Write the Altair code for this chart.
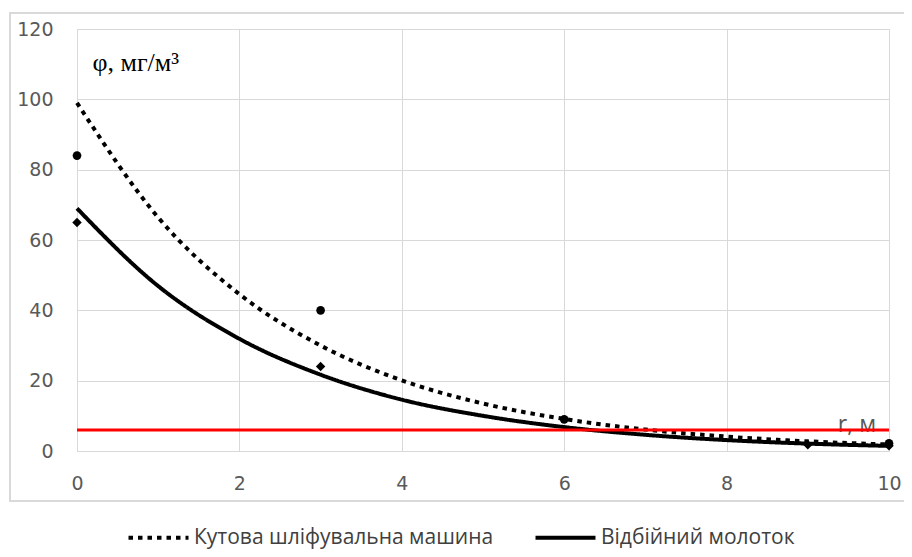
import altair as alt
import pandas as pd

# ---- data ----
series_names = ["Кутова шліфувальна машина", "Відбійний молоток"]

r_trend = [0, 1, 2, 3, 4, 5, 6, 7, 8, 9, 10]
trend_grinder = [99.0, 66.4, 44.6, 30.0, 20.1, 13.5, 9.1, 6.1, 4.1, 2.75, 1.85]
trend_hammer = [69.0, 46.9, 31.9, 21.7, 14.6, 10.0, 6.8, 4.6, 3.1, 2.1, 1.45]

r_grinder_pts = [0, 3, 6, 10]
phi_grinder_pts = [84, 40, 9, 2.2]
r_hammer_pts = [0, 3, 9, 10]
phi_hammer_pts = [65, 24, 1.8, 1.5]

mpc_level = [6]

x_ticks = [0, 2, 4, 6, 8, 10]
y_ticks = [0, 20, 40, 60, 80, 100, 120]

y_label_text = "φ, мг/м³"
x_label_text = "r, м"

# ---- tables ----
trend_df = pd.DataFrame({
    "r": r_trend * 2,
    "phi": trend_grinder + trend_hammer,
    "series": [series_names[0]] * len(r_trend) + [series_names[1]] * len(r_trend),
})
grinder_df = pd.DataFrame({"r": r_grinder_pts, "phi": phi_grinder_pts})
hammer_df = pd.DataFrame({"r": r_hammer_pts, "phi": phi_hammer_pts})
mpc_df = pd.DataFrame({"phi": mpc_level})

GRID = "#d9d9d9"
LABEL = "#595959"
FONT = "Open Sans"
TICKFONT = "DejaVu Sans"

x_scale = alt.Scale(domain=[0, 10], nice=False, zero=False)
y_scale = alt.Scale(domain=[0, 120], nice=False)

x_axis = alt.Axis(values=x_ticks, title=None, ticks=False, domain=False,
                  labelPadding=23, labelFontSize=19, labelFont=TICKFONT,
                  labelColor=LABEL, gridColor=GRID, grid=True, format="d",
                  labelFlush=False)
y_axis = alt.Axis(values=y_ticks, title=None, ticks=False, domain=False,
                  labelPadding=24, labelFontSize=19, labelFont=TICKFONT,
                  labelColor=LABEL, gridColor=GRID, grid=True, format="d")

frame = alt.Chart(pd.DataFrame({"a": [0]})).mark_rect(
    fill="white", fillOpacity=0, stroke=GRID, strokeWidth=2
).encode(
    x=alt.value(-67), x2=alt.value(840), y=alt.value(-16), y2=alt.value(472)
)

lines = alt.Chart(trend_df).mark_line(
    interpolate="monotone", strokeWidth=4, color="black", strokeCap="butt"
).encode(
    x=alt.X("r:Q", scale=x_scale, axis=x_axis),
    y=alt.Y("phi:Q", scale=y_scale, axis=y_axis),
    strokeDash=alt.StrokeDash(
        "series:N",
        scale=alt.Scale(domain=series_names, range=[[4.5, 5], [1, 0]]),
        legend=alt.Legend(
            title=None, orient="none", legendX=71, legendY=498,
            direction="horizontal", columns=2,
            symbolType="M-3.75,0H3.75",
            symbolStrokeWidth=4, symbolSize=256, symbolStrokeColor="black",
            symbolFillColor="transparent",
            labelFont=FONT, labelFontSize=21, labelColor="#404040",
            columnPadding=33, labelOffset=25, padding=0, labelLimit=500,
        ),
    ),
    detail="series:N",
)

grinder_pts = alt.Chart(grinder_df).mark_point(
    shape="circle", filled=True, size=75, color="black", opacity=1
).encode(x=alt.X("r:Q", scale=x_scale), y=alt.Y("phi:Q", scale=y_scale))

hammer_pts = alt.Chart(hammer_df).mark_point(
    shape="diamond", filled=True, size=90, color="black", opacity=1
).encode(x=alt.X("r:Q", scale=x_scale), y=alt.Y("phi:Q", scale=y_scale))

mpc = alt.Chart(mpc_df).mark_rule(color="#ff0000", strokeWidth=3).encode(
    y=alt.Y("phi:Q", scale=y_scale)
)

phi_label = alt.Chart(pd.DataFrame({"r": [0.19], "phi": [108], "t": [y_label_text]})).mark_text(
    align="left", baseline="alphabetic", font="Liberation Serif", fontSize=26, color="black"
).encode(x=alt.X("r:Q", scale=x_scale), y=alt.Y("phi:Q", scale=y_scale), text="t:N")

r_label = alt.Chart(pd.DataFrame({"r": [9.84], "phi": [5.4], "t": [x_label_text]})).mark_text(
    align="right", baseline="alphabetic", font=FONT, fontSize=23, color=LABEL
).encode(x=alt.X("r:Q", scale=x_scale), y=alt.Y("phi:Q", scale=y_scale), text="t:N")

chart = alt.layer(
    frame, phi_label, r_label, lines, grinder_pts, hammer_pts, mpc
).properties(
    width=812, height=422,
    autosize=alt.AutoSizeParams(type="none"),
    padding={"left": 69, "top": 21, "right": 15, "bottom": 98},
    background="white",
).configure_view(stroke=GRID, strokeWidth=1)

chart.save("out.html", embed_options={"renderer": "svg", "actions": False})
